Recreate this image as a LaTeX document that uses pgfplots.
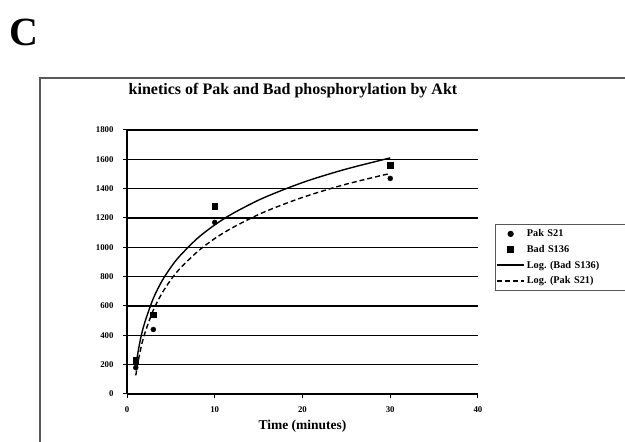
\documentclass[border=0pt]{standalone}
\usepackage{fontspec}
\setmainfont{Liberation Serif}
\usepackage{pgfplots}
\pgfplotsset{compat=1.18}
\frenchspacing
\pgfplotstableread{
x y
1 180
3 440
10 1170
30 1470
}\pak
\pgfplotstableread{
x y
1 230
3 540
10 1280
30 1560
}\bad
\begin{document}
\begin{tikzpicture}[x=1pt,y=1pt]
\useasboundingbox (0,0) rectangle (625,442);
\draw[gray!70!black, line width=1.6pt] (40,-20) -- (40,364) -- (660,364);
\node[font=\bfseries\fontsize{40}{44}\selectfont] at (24,410) {C};
\node[font=\bfseries\fontsize{16}{18}\selectfont] at (293,351) {kinetics of Pak and Bad phosphorylation by Akt};
\begin{axis}[
  at={(127pt,48pt)}, anchor=south west,
  scale only axis, width=351pt, height=264pt,
  xmin=0, xmax=40, ymin=0, ymax=1800,
  xtick={0,10,20,30,40}, ytick={0,200,...,1800},
  axis lines*=left,
  axis line style={line width=1.1pt, black},
  ymajorgrids, grid style={black, line width=1.1pt},
  tick align=outside, major tick length=4pt,
  tick style={black, line width=1pt},
  /pgf/number format/assume math mode=true,
  /pgf/number format/set thousands separator={},
  tick label style={font=\bfseries\fontsize{8.8}{10}\selectfont},
  xticklabel style={yshift=-5pt},
  yticklabel style={xshift=-6pt},
  xlabel={Time (minutes)},
  xlabel style={font=\bfseries\fontsize{13.5}{15}\selectfont, yshift=-1pt},
  clip=false,
  legend image code/.code={\draw[mark repeat=2,mark phase=2,#1] plot coordinates {(0pt,0pt) (13.5pt,0pt) (27pt,0pt)};},
  legend style={at={(1.048,0.644)}, anchor=north west, draw=gray!70!black, line width=1.2pt,
    font=\bfseries\fontsize{10.3}{11}\selectfont, row sep=3pt, inner xsep=1pt, inner ysep=3pt,
    nodes={text width=100pt, align=left}},
  legend cell align=left,
]
\addplot[only marks, mark=*, mark size=2.5pt, black] table {\pak};
\addlegendentry{Pak S21}
\addplot[only marks, mark=square*, mark size=2.8pt, black] table {\bad};
\addlegendentry{Bad S136}
\addplot[black, line width=1.4pt, smooth] coordinates {
(1,195) (1.5,364) (2,483) (3,652) (4,772) (5,864) (6,940) (8,1060) (10,1153) (12,1229) (15,1322) (18,1397) (21,1462) (25,1534) (30,1610)};
\addlegendentry{Log.\ (Bad S136)}
\addplot[black, line width=1.4pt, dashed, dash pattern=on 5pt off 3pt, smooth] coordinates {
(1,127) (1.5,291) (2,408) (3,572) (4,688) (5,779) (6,853) (8,969) (10,1060) (12,1133) (15,1224) (18,1297) (21,1360) (25,1431) (30,1504)};
\addlegendentry{Log.\ (Pak S21)}
\end{axis}
\end{tikzpicture}
\end{document}
